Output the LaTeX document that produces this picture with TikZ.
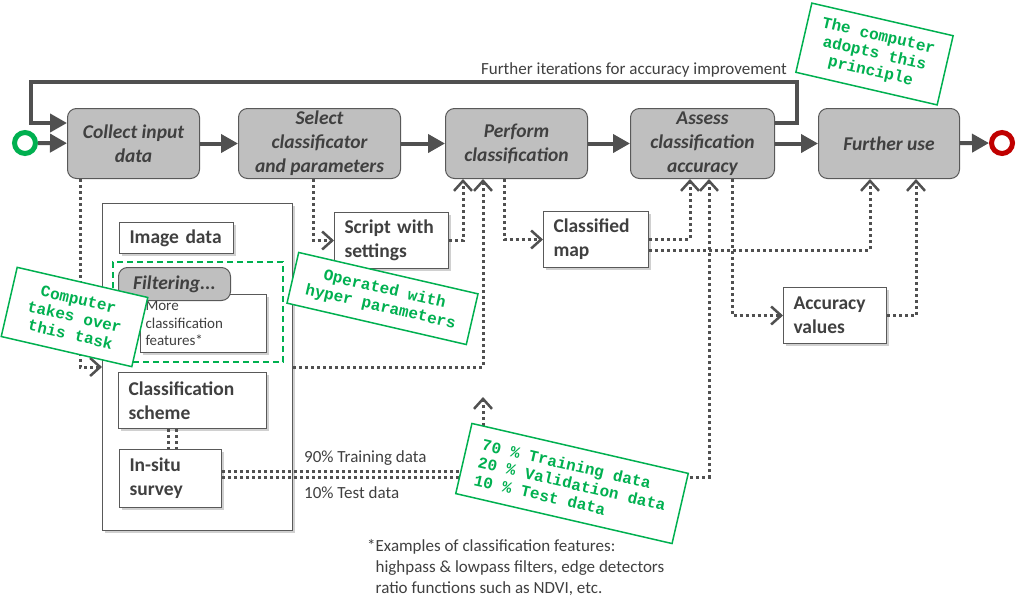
\documentclass[tikz,border=0pt]{standalone}
\usepackage{fontspec}
\setmainfont{Carlito}
\newfontfamily\notefont{Liberation Mono}
\usetikzlibrary{arrows.meta,shadows,calc}
\definecolor{lg}{HTML}{505050}
\definecolor{boxfill}{HTML}{BFBFBF}
\definecolor{boxborder}{HTML}{595959}
\definecolor{gtext}{HTML}{404040}
\definecolor{wtext}{HTML}{404040}
\definecolor{ngreen}{HTML}{00B050}
\definecolor{nred}{HTML}{C00000}
\begin{document}
\begin{tikzpicture}[x=1pt,y=-1pt,
 gbox/.style={draw=boxborder, fill=boxfill, rounded corners=9pt, line width=1pt, anchor=north west, align=center, text=gtext, font=\fontsize{19.5}{24}\selectfont\bfseries\itshape, inner sep=0pt},
 wbox/.style={draw=boxborder, fill=white, line width=1pt, anchor=north west, align=left, text=wtext, font=\fontsize{19.5}{24}\selectfont\bfseries, inner xsep=10pt, inner ysep=0pt, drop shadow={shadow xshift=2.5pt, shadow yshift=-2.5pt, opacity=0.3, fill=black!60}},
 main/.style={draw=lg, line width=4pt, -{Triangle[length=17pt,width=18pt]}},
 dots/.style={draw=lg, line width=3pt, dash pattern=on 3pt off 3pt},
 dotarrow/.style={dots, -{Straight Barb[length=10pt,width=18pt,line width=2.5pt]}},
 note/.style={draw=ngreen, fill=white, line width=1.5pt, text=ngreen, font=\notefont\bfseries\fontsize{16}{18}\selectfont, align=center, inner sep=0pt, rotate=-13},
 lbl/.style={text=wtext, font=\fontsize{17}{21}\selectfont, inner sep=0pt}
]
\fill[white] (0,0) rectangle (1021,605);
\useasboundingbox (0,0) rectangle (1021,605);

% left panel
\node[wbox, minimum width=190pt, minimum height=327pt, inner sep=0pt] (panel) at (102,203) {};
\node[wbox, text width=94pt, minimum height=31pt] (image) at (119,222) {Image data};
\node[draw=ngreen, line width=2pt, dash pattern=on 6pt off 4pt, anchor=north west, minimum width=170pt, minimum height=100pt, inner sep=0pt] (filtarea) at (112,261) {};
\node[wbox, text width=116pt, inner xsep=5pt, minimum height=58pt, font=\fontsize{15}{17.5}\selectfont] (more) at (140,294) {More\\classification\\features*};
\node[gbox, minimum width=112pt, minimum height=33pt] (filter) at (118,267) {Filtering...};
\node[wbox, text width=128pt, minimum height=56pt] (scheme) at (118,372) {Classification\\scheme};
\node[wbox, text width=82pt, minimum height=58pt] (insitu) at (119,449) {In-situ\\survey};

% other white boxes
\node[wbox, text width=94pt, minimum height=56pt] (script) at (334,212) {Script with\\settings};
\node[wbox, text width=85pt, minimum height=56pt] (classified) at (543,211) {Classified\\map};
\node[wbox, text width=83pt, minimum height=56pt] (accvals) at (783,287) {Accuracy\\values};

% main process
\node[circle, draw=ngreen, line width=5pt, minimum size=21pt, inner sep=0pt] (start) at (25,143) {};
\node[circle, draw=nred, line width=5pt, minimum size=21pt, inner sep=0pt] (end) at (1002,143) {};
\node[gbox, minimum width=132pt, minimum height=70pt] (collect) at (67,108) {Collect input\\data};
\node[gbox, minimum width=162pt, minimum height=70pt] (select) at (238,108) {Select\\classificator\\and parameters};
\node[gbox, minimum width=142pt, minimum height=70pt] (perform) at (445,108) {Perform\\classification};
\node[gbox, minimum width=144pt, minimum height=70pt] (assess) at (630,108) {Assess\\classification\\accuracy};
\node[gbox, minimum width=141pt, minimum height=70pt] (further) at (818,108) {Further use};

\draw[main] (start) -- (collect);
\draw[main] (collect) -- (select);
\draw[main] (select) -- (perform);
\draw[main] (perform) -- (assess);
\draw[main] (assess) -- (further);
\draw[main] (further) -- (end);
\draw[main] (assess.east |- 0,123) -| (797,82) -| (31,123) -- (collect.west |- 0,123);
\node[lbl, anchor=east] (looplbl) at (787,70) {Further iterations for accuracy improvement};

% dotted connectors
\draw[dotarrow] (collect.south -| 80,0) |- (panel.west |- 0,367);
\draw[dotarrow] (select.south -| 313,0) |- (script.west);
\draw[dotarrow] (script.east) -| (perform.south -| 463,0);
\draw[dotarrow] (panel.east |- 0,367) -| (perform.south -| 483,0);
\draw[dotarrow] (perform.south -| 504,0) |- (classified.west);
\draw[dotarrow] (classified.east |- 0,239) -| (assess.south -| 690,0);
\draw[dotarrow] (classified.east |- 0,250) -| (further.south -| 870,0);
\draw[dotarrow] (assess.south -| 732,0) |- (accvals.west);
\draw[dotarrow] (accvals.east) -| (further.south -| 916,0);
\draw[dotarrow] (insitu.east |- 0,471) -| (483,397);
\draw[dotarrow] (insitu.east |- 0,477) -| (assess.south -| 709,0);
\draw[dots] (scheme.south -| 168,0) -- (insitu.north -| 168,0);
\draw[dots] (scheme.south -| 176,0) -- (insitu.north -| 176,0);

\node[lbl, anchor=west] (train) at (304,458) {90\% Training data};
\node[lbl, anchor=west] (test) at (304,493) {10\% Test data};

\node[lbl, anchor=north west, align=left] (foot) at (367,539) {*Examples of classification features:\\\phantom{*}highpass \& lowpass filters, edge detectors\\\phantom{*}ratio functions such as NDVI, etc.};

% green notes
\node[note, minimum width=145pt, minimum height=71pt] (n1) at (874.5,54) {The computer\\adopts this\\principle};
\node[note, minimum width=134pt, minimum height=71pt] (n2) at (74.5,317) {Computer\\takes over\\this task};
\node[note, minimum width=184pt, minimum height=52pt] (n3) at (382.5,298.5) {Operated with\\hyper parameters};
\node[note, minimum width=222pt, minimum height=72pt, align=left] (n4) at (572,483.5) {70 \% Training data\\20 \% Validation data\\10 \% Test data};
\end{tikzpicture}
\end{document}
